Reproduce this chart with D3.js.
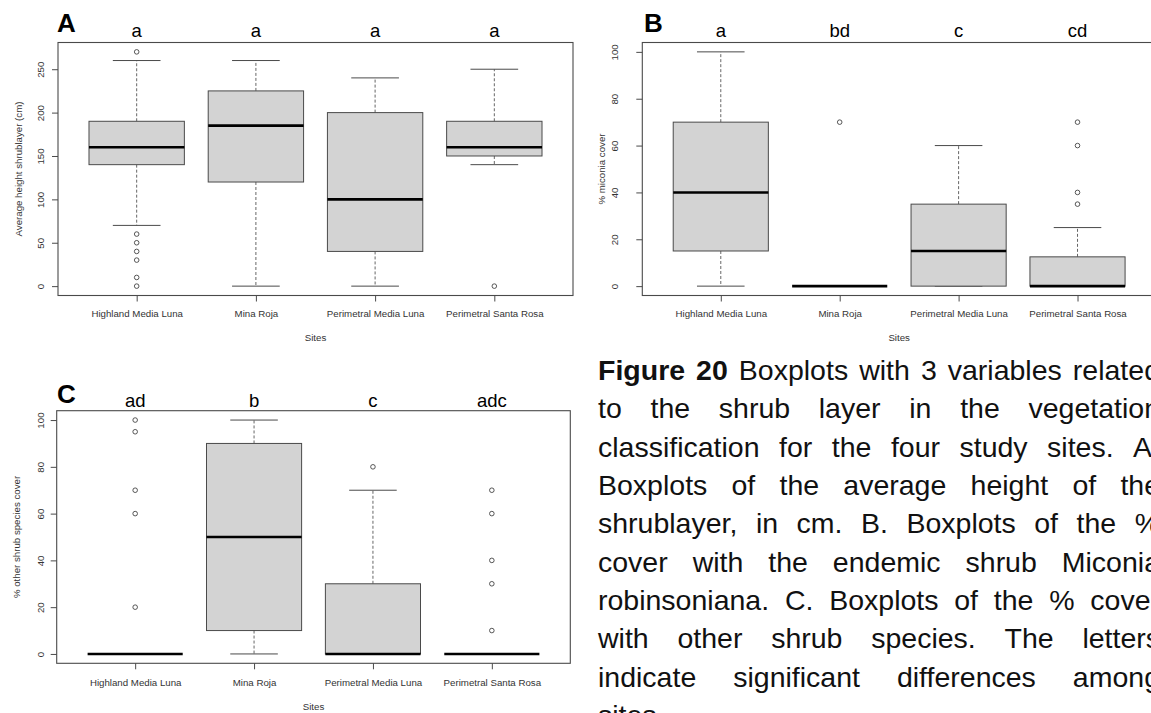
<!DOCTYPE html>
<html><head><meta charset="utf-8">
<script src="https://cdn.jsdelivr.net/npm/d3@7"></script>
<style>
body{margin:0;background:#fff}
svg{display:block}
text{font-family:"Liberation Sans",Arial,sans-serif}
</style>
</head><body>
<svg id="chart" width="1151" height="713"></svg>
<script>
// ---------- DATA ----------
const sites = ["Highland Media Luna", "Mina Roja", "Perimetral Media Luna", "Perimetral Santa Rosa"];

// each entry: [lower whisker, Q1, median, Q3, upper whisker]
const heightStats = [[70, 140, 160, 190, 260], [0, 120, 185, 225, 260], [0, 40, 100, 200, 240], [140, 150, 160, 190, 250]];
const heightOutliers = [[270, 60, 50, 40, 30, 10, 0], [], [], [0]];
const heightLetters = ["a", "a", "a", "a"];
const heightTicks = [0, 50, 100, 150, 200, 250];

const miconiaStats = [[0, 15, 40, 70, 100], [0, 0, 0, 0, 0], [0, 0, 15, 35, 60], [0, 0, 0, 12.5, 25]];
const miconiaOutliers = [[], [70], [], [70, 60, 40, 35]];
const miconiaLetters = ["a", "bd", "c", "cd"];

const otherStats = [[0, 0, 0, 0, 0], [0, 10, 50, 90, 100], [0, 0, 0, 30, 70], [0, 0, 0, 0, 0]];
const otherOutliers = [[100, 95, 70, 60, 20], [], [80], [70, 60, 40, 30, 10]];
const otherLetters = ["ad", "b", "c", "adc"];

const pctTicks = [0, 20, 40, 60, 80, 100];

const captionLines = [
  "Figure 20 Boxplots with 3 variables related",
  "to the shrub layer in the vegetation",
  "classification for the four study sites. A.",
  "Boxplots of the average height of the",
  "shrublayer, in cm. B. Boxplots of the %",
  "cover with the endemic shrub Miconia",
  "robinsoniana. C. Boxplots of the % cover",
  "with other shrub species. The letters",
  "indicate significant differences among",
  "sites."
];

// ---------- DRAW ----------
const svg = d3.select("#chart");
svg.append("rect").attr("width", 1151).attr("height", 713).attr("fill", "#fff");

const FRAME = "#4a4a4a";
const SMALL = 9.7;

function drawPanel(p) {
  const g = svg.append("g");
  const x = d3.scaleLinear().domain([0.34, 4.66]).range([p.left, p.right]);
  const y = d3.scaleLinear().domain(p.yDomain).range([p.bottom, p.top]);
  const bw = 0.8 * (x(2) - x(1));
  const sw = bw / 2;
  const idx = [1, 2, 3, 4];

  // boxes
  p.stats.forEach((s, i) => {
    const cx = x(i + 1);
    const [lo, q1, med, q3, hi] = s;
    const bg = g.append("g");
    // whiskers (dashed)
    if (hi > q3) bg.append("line").attr("x1", cx).attr("x2", cx).attr("y1", y(q3)).attr("y2", y(hi))
      .attr("stroke", "#666").attr("stroke-width", 1).attr("stroke-dasharray", "3,2");
    if (lo < q1) bg.append("line").attr("x1", cx).attr("x2", cx).attr("y1", y(q1)).attr("y2", y(lo))
      .attr("stroke", "#666").attr("stroke-width", 1).attr("stroke-dasharray", "3,2");
    // staples
    [lo, hi].forEach(v => bg.append("line").attr("x1", cx - sw / 2).attr("x2", cx + sw / 2)
      .attr("y1", y(v)).attr("y2", y(v)).attr("stroke", FRAME).attr("stroke-width", 1));
    // box
    bg.append("rect").attr("x", cx - bw / 2).attr("width", bw)
      .attr("y", y(q3)).attr("height", Math.max(0, y(q1) - y(q3)))
      .attr("fill", "#d3d3d3").attr("stroke", FRAME).attr("stroke-width", 1);
    // median
    bg.append("line").attr("x1", cx - bw / 2).attr("x2", cx + bw / 2)
      .attr("y1", y(med)).attr("y2", y(med)).attr("stroke", "#000").attr("stroke-width", 2.6);
    // outliers
    bg.selectAll("circle").data(p.outliers[i]).join("circle")
      .attr("cx", cx).attr("cy", d => y(d)).attr("r", 2.3)
      .attr("fill", "none").attr("stroke", "#444").attr("stroke-width", 0.9);
  });

  // frame
  g.append("rect").attr("x", p.left).attr("y", p.top)
    .attr("width", p.right - p.left).attr("height", p.bottom - p.top)
    .attr("fill", "none").attr("stroke", FRAME).attr("stroke-width", 1.1);

  // y axis
  const ya = g.append("g").attr("transform", `translate(${p.left},0)`)
    .call(d3.axisLeft(y).tickValues(p.ticks).tickSize(6).tickFormat(d3.format("d")));
  ya.select(".domain").remove();
  ya.selectAll(".tick line").attr("stroke", FRAME);
  ya.selectAll(".tick text").attr("x", null).attr("y", null).attr("dy", null)
    .attr("text-anchor", "middle").attr("fill", "#333")
    .attr("font-size", SMALL).attr("font-family", '"Liberation Sans",Arial,sans-serif')
    .attr("transform", `translate(${p.tickLabelX - p.left},0) rotate(-90)`);

  // x axis
  const xa = g.append("g").attr("transform", `translate(0,${p.bottom})`)
    .call(d3.axisBottom(x).tickValues(idx).tickSize(6).tickFormat(i => sites[i - 1]));
  xa.select(".domain").remove();
  xa.selectAll(".tick line").attr("stroke", FRAME);
  xa.selectAll(".tick text").attr("y", p.catLabelY - p.bottom).attr("dy", 0)
    .attr("fill", "#333").attr("font-size", SMALL)
    .attr("font-family", '"Liberation Sans",Arial,sans-serif');

  // axis titles
  g.append("text").attr("transform", `translate(${p.yTitleX},${(p.top + p.bottom) / 2}) rotate(-90)`)
    .attr("text-anchor", "middle").attr("font-size", SMALL).attr("fill", "#333").text(p.yTitle);
  g.append("text").attr("x", (p.left + p.right) / 2).attr("y", p.sitesY)
    .attr("text-anchor", "middle").attr("font-size", SMALL).attr("fill", "#333").text("Sites");

  // significance letters
  g.selectAll("text.sig").data(p.letters).join("text").attr("class", "sig")
    .attr("x", (d, i) => x(i + 1)).attr("y", p.letterY)
    .attr("text-anchor", "middle").attr("font-size", 18.5).attr("fill", "#000").text(d => d);

  // panel label
  g.append("text").attr("x", p.panelX).attr("y", p.panelY)
    .attr("font-size", 26).attr("font-weight", "bold").attr("fill", "#000").text(p.panel);
}

drawPanel({
  left: 58, right: 573, top: 42.5, bottom: 295.5, yDomain: [-10.8, 280.8],
  stats: heightStats, outliers: heightOutliers, letters: heightLetters, ticks: heightTicks,
  tickLabelX: 44, catLabelY: 316.5, yTitleX: 22, yTitle: "Average height shrublayer (cm)",
  sitesY: 341, letterY: 36.7, panel: "A", panelX: 57, panelY: 32
});
drawPanel({
  left: 642.3, right: 1156, top: 42.5, bottom: 295.5, yDomain: [-4, 104],
  stats: miconiaStats, outliers: miconiaOutliers, letters: miconiaLetters, ticks: pctTicks,
  tickLabelX: 618, catLabelY: 316.5, yTitleX: 605, yTitle: "% miconia cover",
  sitesY: 341, letterY: 36.7, panel: "B", panelX: 644, panelY: 31.5
});
drawPanel({
  left: 56.7, right: 570.3, top: 410.7, bottom: 663.3, yDomain: [-4, 104],
  stats: otherStats, outliers: otherOutliers, letters: otherLetters, ticks: pctTicks,
  tickLabelX: 43.5, catLabelY: 686, yTitleX: 20, yTitle: "% other shrub species cover",
  sitesY: 710, letterY: 406.7, panel: "C", panelX: 57, panelY: 402.5
});

// ---------- CAPTION (justified) ----------
const capLeft = 598, capRight = 1160, capTop = 380, capStep = 38.33, capSize = 28.5;
const cap = svg.append("g").attr("font-size", capSize).attr("fill", "#111");
const measure = svg.append("text").attr("font-size", capSize).attr("visibility", "hidden");
function wordWidth(w, bold) {
  measure.attr("font-weight", bold ? "bold" : "normal").text(w);
  return measure.node().getComputedTextLength();
}
captionLines.forEach((line, li) => {
  const words = line.split(" ");
  const bolds = words.map((w, wi) => li === 0 && wi < 2);
  const widths = words.map((w, wi) => wordWidth(w, bolds[wi]));
  const total = d3.sum(widths);
  const last = li === captionLines.length - 1;
  const gap = (last || words.length < 2) ? wordWidth("a b", false) - wordWidth("ab", false)
    : (capRight - capLeft - total) / (words.length - 1);
  let xpos = capLeft;
  const t = cap.append("text").attr("y", capTop + li * capStep);
  words.forEach((w, wi) => {
    t.append("tspan").attr("x", xpos).attr("font-weight", bolds[wi] ? "bold" : "normal").text(w);
    xpos += widths[wi] + gap;
  });
});
measure.remove();
</script>
</body></html>
